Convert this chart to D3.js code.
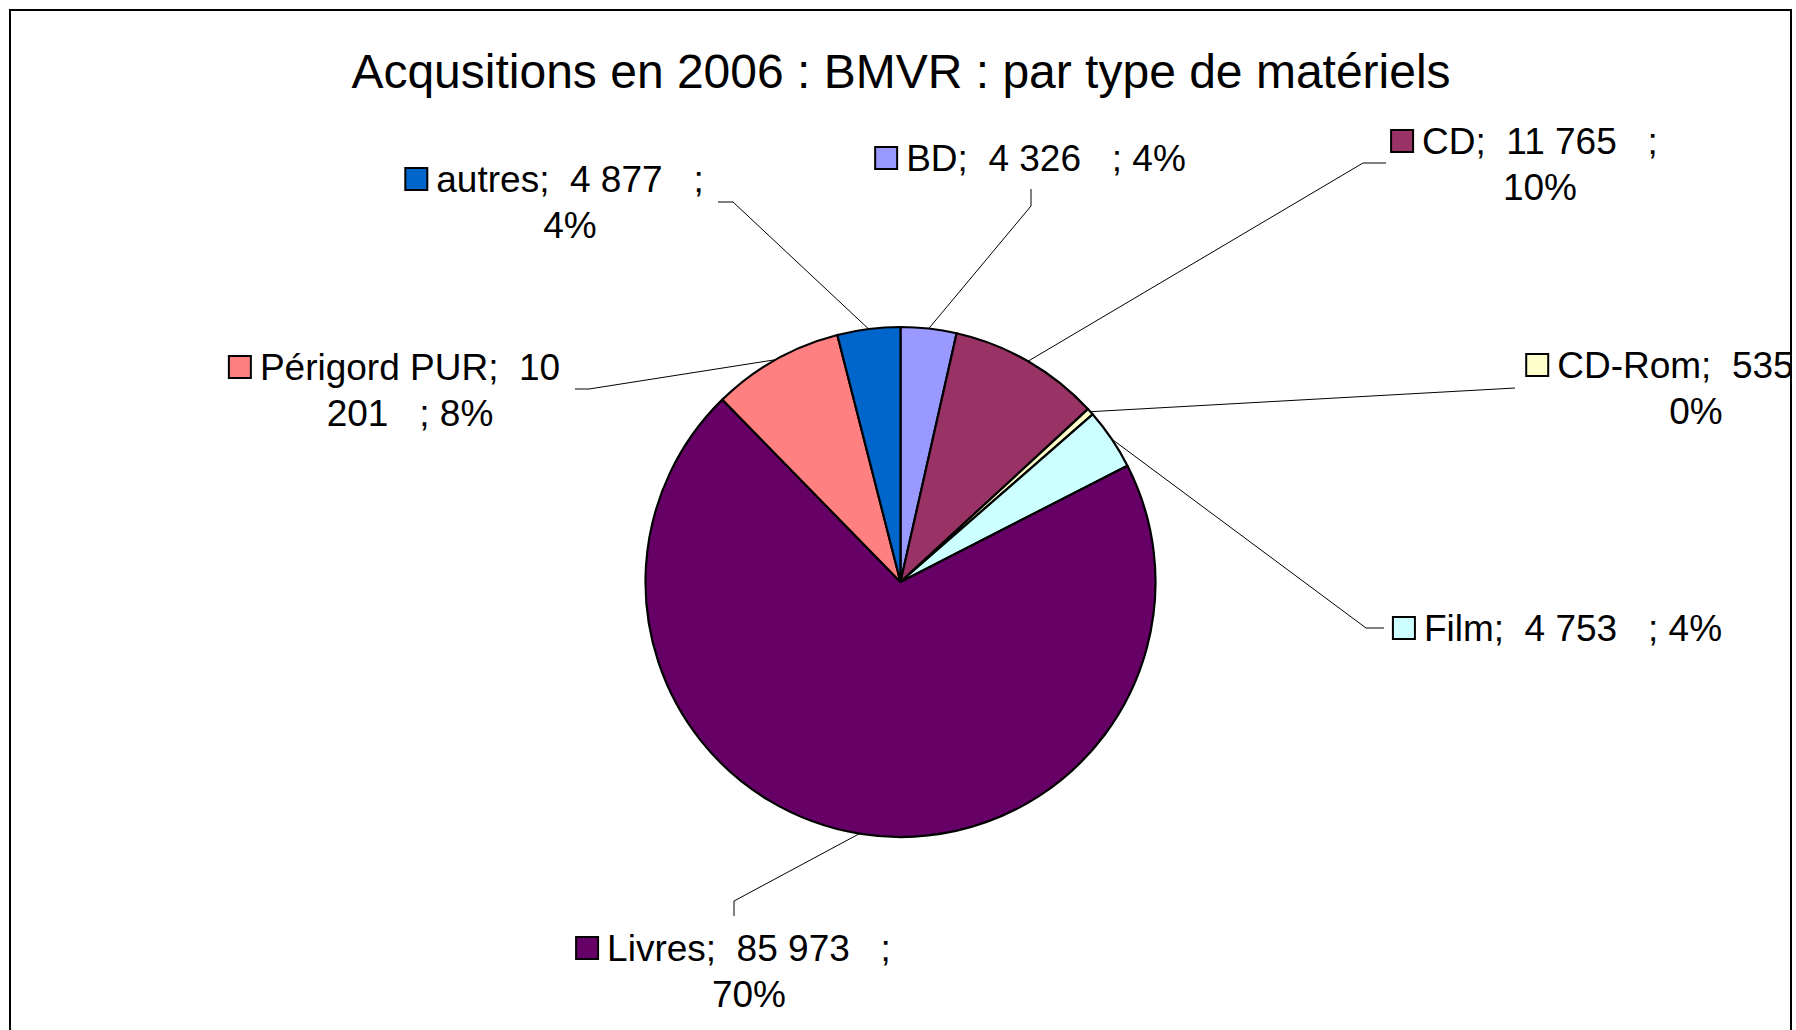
<!DOCTYPE html>
<html lang="fr">
<head>
<meta charset="utf-8">
<title>Acqusitions en 2006 : BMVR : par type de matériels</title>
<script src="https://cdn.jsdelivr.net/npm/d3@7/dist/d3.min.js"></script>
<style>
  html, body { margin: 0; padding: 0; background: #fff; }
  svg { display: block; }
  text { font-family: "Liberation Sans", Arial, sans-serif; fill: #000; white-space: pre; }
</style>
</head>
<body>
<svg id="chart" width="1796" height="1030"></svg>
<script>
// Acquisitions 2006 by material type
const categories = ["BD", "CD", "CD-Rom", "Film", "Livres", "Périgord PUR", "autres"];
const values     = [4326, 11765, 535, 4753, 85973, 10201, 4877];
const colors     = ["#9999FF", "#993366", "#FFFFCC", "#CCFFFF", "#660066", "#FF8080", "#0066CC"];
const titleText  = "Acqusitions en 2006 : BMVR : par type de matériels";

// Hand-placed data label boxes: text centre, first line middle, wrap width,
// and the leader's elbow / end points next to the label.
const labelLayout = [
  { cx: 1046, cy: 158, wrap: 330, elbow: [1031, 206], end: [1031, 189] },
  { cx: 1540, cy: 141, wrap: 300, elbow: [1363, 163], end: [1386, 163] },
  { cx: 1696, cy: 365, wrap: 300, elbow: [1515, 388], end: [1515, 388] },
  { cx: 1573, cy: 628, wrap: 330, elbow: [1366, 628], end: [1384, 628] },
  { cx: 749,  cy: 948, wrap: 320, elbow: [734, 901],  end: [734, 916] },
  { cx: 410,  cy: 367, wrap: 330, elbow: [589, 389],  end: [575, 389] },
  { cx: 570,  cy: 179, wrap: 300, elbow: [733, 202],  end: [718, 202] }
];

const W = 1796, H = 1030;
const frame = { x: 10, y: 10, w: 1781, h: 1030 };
const center = [900.5, 582];
const radius = 255;
const fontSize = 37, lineGap = 46;

const svg = d3.select("#chart");

svg.append("defs").append("clipPath").attr("id", "area")
  .append("rect").attr("x", frame.x).attr("y", frame.y).attr("width", frame.w).attr("height", frame.h);

const root = svg.append("g").attr("clip-path", "url(#area)");

// Chart frame
svg.append("rect")
  .attr("x", frame.x).attr("y", frame.y).attr("width", frame.w).attr("height", frame.h + 20)
  .attr("fill", "none").attr("stroke", "#000").attr("stroke-width", 2);

// Title
root.append("text")
  .attr("x", 901).attr("y", 88)
  .attr("text-anchor", "middle")
  .style("font-size", "48px")
  .text(titleText);

// Pie
const data = categories.map((c, i) => ({ name: c, value: values[i], color: colors[i], layout: labelLayout[i] }));
const total = d3.sum(values);
const pie = d3.pie().value(d => d.value).sort(null).startAngle(0).endAngle(2 * Math.PI);
const arcs = pie(data);
const arc = d3.arc().innerRadius(0).outerRadius(radius);
const edge = d3.arc().innerRadius(radius).outerRadius(radius);

const pieG = root.append("g").attr("transform", `translate(${center[0]},${center[1]})`);
pieG.selectAll("path.slice").data(arcs).join("path")
  .attr("class", "slice")
  .attr("d", arc)
  .attr("fill", d => d.data.color)
  .attr("stroke", "#000")
  .attr("stroke-width", 2.2)
  .attr("stroke-linejoin", "round");

// Leader lines from each slice edge to its label
const line = d3.line();
root.selectAll("path.leader").data(arcs).join("path")
  .attr("class", "leader")
  .attr("d", d => {
    const c = edge.centroid(d);
    const p0 = [center[0] + c[0], center[1] + c[1]];
    return line([p0, d.data.layout.elbow, d.data.layout.end]);
  })
  .attr("fill", "none")
  .attr("stroke", "#000")
  .attr("stroke-width", 1);

// Data labels: "name;  value   ; pct%" wrapped inside the layout width
const fr = d3.formatLocale({ decimal: ",", thousands: "\u0020", grouping: [3], currency: ["", " €"] });
const fmt = fr.format(",d");
const ctx = document.createElement("canvas").getContext("2d");
ctx.font = `${fontSize}px "Liberation Sans", Arial, sans-serif`;

function wrapLabel(str, maxW) {
  const words = str.split(" ");
  const lines = [];
  let cur = "";
  words.forEach((w, i) => {
    const next = i === 0 ? w : cur + " " + w;
    if (cur.trim() !== "" && w !== "" && ctx.measureText(next).width > maxW) {
      lines.push(cur.replace(/\s+$/, ""));
      cur = w;
    } else {
      cur = next;
    }
  });
  lines.push(cur.replace(/^\s+/, ""));
  return lines;
}

const keySize = 22, keyGap = 9;
arcs.forEach(d => {
  const L = d.data.layout;
  const pct = Math.round(d.data.value / total * 100);
  const label = `${d.data.name};  ${fmt(d.data.value)}   ; ${pct}%`;
  const lines = wrapLabel(label, L.wrap);
  const g = root.append("g").attr("class", "label");
  lines.forEach((t, k) => {
    g.append("text")
      .attr("x", L.cx)
      .attr("y", L.cy + k * lineGap + fontSize * 0.358)
      .attr("text-anchor", "middle")
      .style("font-size", fontSize + "px")
      .text(t);
  });
  const w0 = ctx.measureText(lines[0]).width;
  g.append("rect")
    .attr("x", L.cx - w0 / 2 - keyGap - keySize)
    .attr("y", L.cy - keySize / 2)
    .attr("width", keySize).attr("height", keySize)
    .attr("fill", d.data.color)
    .attr("stroke", "#000").attr("stroke-width", 2);
});
</script>
</body>
</html>
